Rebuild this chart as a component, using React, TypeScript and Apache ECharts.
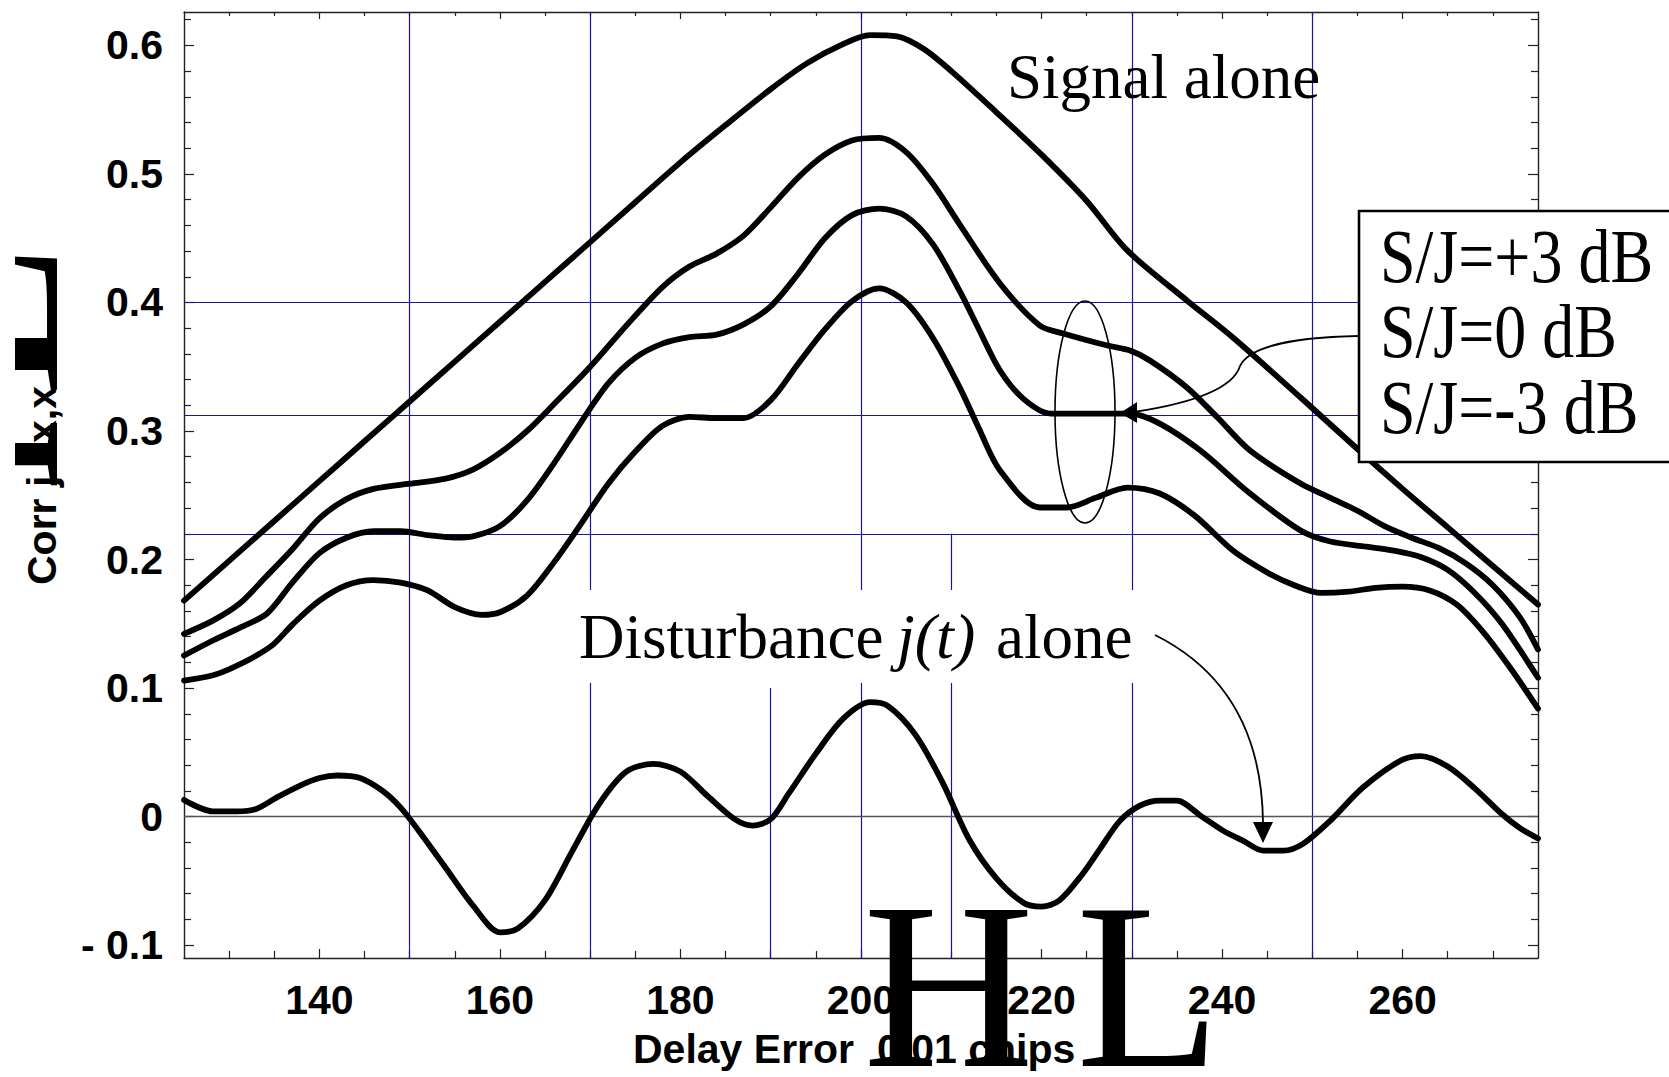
import React, { useEffect, useRef } from 'react';
import * as echarts from 'echarts';

// ---------- axes ----------
const X_MIN = 125;
const X_MAX = 275;
const Y_MIN = -0.11;
const Y_MAX = 0.626;
const X_MAJOR = [140, 160, 180, 200, 220, 240, 260];
const X_MINOR = [130, 135, 145, 150, 155, 165, 170, 175, 185, 190, 195, 205, 210, 215, 225, 230, 235, 245, 250, 255, 265, 270];
const Y_MAJOR = [-0.1, 0, 0.1, 0.2, 0.3, 0.4, 0.5, 0.6];
const Y_MINOR = [-0.08, -0.06, -0.04, -0.02, 0.02, 0.04, 0.06, 0.08, 0.12, 0.14, 0.16, 0.18, 0.22, 0.24, 0.26, 0.28,
  0.32, 0.34, 0.36, 0.38, 0.42, 0.44, 0.46, 0.48, 0.52, 0.54, 0.56, 0.58, 0.62];

// ---------- reference lines ----------
const V_LINES_FULL = [150, 170, 200, 230, 250];
const V_LINES_PART = [[190, 0.1], [210, 0.22]]; // x, top value (runs down to the bottom)
const H_LINES = [0.4, 0.312, 0.22];

// ---------- data ----------
const SIGNAL_X = [125, 130, 135, 140, 145, 150, 155, 160, 165, 170, 175, 180, 185, 190, 194, 198, 201, 204, 207, 210, 215, 220, 225, 229.5, 236.1, 241.2, 248.7, 255, 260, 265, 270, 275];
const SIGNAL_Y = [0.168, 0.199, 0.23, 0.261, 0.292, 0.323, 0.354, 0.385, 0.416, 0.447, 0.478, 0.509, 0.538, 0.566, 0.586, 0.601, 0.608, 0.607, 0.597, 0.58, 0.548, 0.515, 0.479, 0.4405, 0.4016, 0.3728, 0.3261, 0.286, 0.255, 0.225, 0.195, 0.165];

const SJ_P3_X = [125, 128.2, 131.2, 134, 137, 140, 143, 146, 150, 154, 157, 160, 163, 166, 170, 174, 178, 181, 184, 187, 190, 193, 196, 199, 202, 205, 208, 211, 215.4, 219.8, 222.4, 227.3, 229.8, 232, 236.1, 239.5, 243.1, 248.7, 252, 255, 258, 261, 264, 267, 270, 273, 275];
const SJ_P3_Y = [0.1422, 0.1525, 0.166, 0.186, 0.208, 0.232, 0.247, 0.255, 0.259, 0.263, 0.27, 0.283, 0.3, 0.321, 0.35, 0.382, 0.412, 0.428, 0.438, 0.452, 0.474, 0.497, 0.515, 0.526, 0.528, 0.517, 0.492, 0.46, 0.4148, 0.3821, 0.3759, 0.3665, 0.3626, 0.3549, 0.3339, 0.3105, 0.2848, 0.2591, 0.248, 0.238, 0.226, 0.217, 0.209, 0.197, 0.18, 0.155, 0.13];

const SJ_0_X = [125, 128.2, 131.2, 134.2, 137, 140, 143, 146, 149, 152, 155, 157, 160, 163, 166, 169, 172, 175, 178, 181, 184, 187, 190, 193, 196, 199, 202, 205, 208, 211, 213, 215.4, 218, 221, 224.6, 229.8, 233.1, 237.6, 243, 248.7, 252, 256, 259, 262, 265, 268, 271, 275];
const SJ_0_Y = [0.1253, 0.137, 0.147, 0.158, 0.182, 0.205, 0.217, 0.222, 0.222, 0.219, 0.217, 0.218, 0.226, 0.246, 0.275, 0.307, 0.337, 0.357, 0.368, 0.373, 0.375, 0.383, 0.397, 0.422, 0.45, 0.468, 0.473, 0.467, 0.445, 0.408, 0.38, 0.3471, 0.325, 0.3136, 0.3136, 0.3136, 0.3058, 0.2848, 0.252, 0.2226, 0.214, 0.21, 0.207, 0.202, 0.192, 0.174, 0.15, 0.108];

const SJ_M3_X = [125, 128.2, 130.1, 132.7, 134.9, 137.1, 140, 143, 146, 149, 152, 155, 158, 160, 163, 166, 169, 172, 175, 178, 181, 184, 187, 190, 193, 196, 199, 202, 205, 208, 211, 213, 215.4, 219.8, 222.8, 226, 229.5, 233.1, 237, 241.2, 245, 248, 251, 254, 257, 260, 263, 266, 269, 272, 275];
const SJ_M3_Y = [0.1058, 0.11, 0.115, 0.124, 0.134, 0.15, 0.168, 0.18, 0.184, 0.182, 0.176, 0.163, 0.157, 0.159, 0.172, 0.198, 0.228, 0.259, 0.284, 0.304, 0.311, 0.31, 0.31, 0.324, 0.352, 0.379, 0.401, 0.411, 0.4, 0.372, 0.333, 0.303, 0.2693, 0.2405, 0.2405, 0.248, 0.256, 0.2514, 0.234, 0.207, 0.19, 0.18, 0.174, 0.175, 0.178, 0.179, 0.176, 0.165, 0.143, 0.115, 0.084];

const DIST_X = [125, 128.2, 130.8, 133, 135.3, 137.8, 140, 142, 144.5, 147, 149, 151, 154, 157, 160, 162, 165, 168, 171, 174, 177, 180, 183, 186, 188, 190, 192, 195, 198, 201, 203, 206, 209, 212, 215, 218, 220, 222, 224.5, 226.5, 228.7, 230.9, 233.1, 235, 237.6, 240.1, 242.3, 244.6, 246.8, 249, 252, 255.6, 259.8, 262, 265, 268, 271, 273, 275];
const DIST_Y = [0.013, 0.0041, 0.0041, 0.006, 0.015, 0.024, 0.03, 0.032, 0.03, 0.02, 0.007, -0.011, -0.04, -0.069, -0.09, -0.087, -0.065, -0.027, 0.01, 0.035, 0.041, 0.035, 0.016, -0.002, -0.007, -0.002, 0.018, 0.049, 0.076, 0.089, 0.086, 0.064, 0.027, -0.018, -0.048, -0.067, -0.07, -0.065, -0.045, -0.0249, -0.0031, 0.0086, 0.0125, 0.0125, 0.0008, -0.0109, -0.0187, -0.0265, -0.0265, -0.021, -0.0031, 0.0226, 0.0436, 0.047, 0.039, 0.022, 0.002, -0.009, -0.017];

const LEGEND_LINES = ['S/J=+3 dB', 'S/J=0 dB', 'S/J=-3 dB'];

// ---------- styling helpers ----------
const SANS = '"Liberation Sans", Arial, Helvetica, sans-serif';
const SERIF = '"Liberation Serif", "Times New Roman", Times, serif';
const K_SANS = 0.3465;
const K_SERIF = 0.3375;
const AXIS_COLOR = '#222';
const GRID_BLUE = '#1414a0';

function pairs(xs: number[], ys: number[]) {
  return xs.map((x, i) => [x, ys[i]]);
}

type TOpts = { weight?: string; italic?: boolean; rotation?: number; scaleY?: number; z?: number };
function txt(str: string, x: number, baseline: number, size: number, family: string, o: TOpts = {}) {
  const k = family === SERIF ? K_SERIF : K_SANS;
  const el: any = {
    type: 'text',
    x,
    y: baseline,
    z: o.z ?? 50,
    silent: true,
    style: {
      text: str,
      x: 0,
      y: -k * size,
      fontSize: size,
      fontFamily: family,
      fontWeight: o.weight ?? 'normal',
      fontStyle: o.italic ? 'italic' : 'normal',
      fill: '#000',
      textAlign: 'left',
      verticalAlign: 'middle',
    },
  };
  if (o.rotation) el.rotation = o.rotation;
  if (o.scaleY) el.scaleY = o.scaleY;
  return el;
}

function makeAxis(dim: 'x' | 'y', position: string, ticks: number[], len: number, showLine: boolean, labels: boolean) {
  const isX = dim === 'x';
  const ax: any = {
    type: 'value',
    position,
    min: isX ? X_MIN : Y_MIN,
    max: isX ? X_MAX : Y_MAX,
    splitLine: { show: false },
    axisLine: { show: showLine, onZero: false, lineStyle: { color: AXIS_COLOR, width: 1.4 } },
    axisTick: { show: true, inside: true, length: len, customValues: ticks, lineStyle: { color: AXIS_COLOR, width: 1.2 } },
    axisLabel: { show: false },
  };
  if (labels) {
    ax.axisLabel = {
      show: true,
      customValues: ticks,
      fontSize: 41,
      fontWeight: 'bold',
      fontFamily: SANS,
      color: '#000',
      margin: isX ? 42 : 21,
      verticalAlign: 'middle',
      formatter: (v: number) => {
        if (isX) return String(Math.round(v));
        const r = Math.round(v * 10) / 10;
        if (r < 0) return '- ' + Math.abs(r).toFixed(1);
        if (r === 0) return '0';
        return r.toFixed(1);
      },
    };
  }
  return ax;
}

function buildOption() {
  const gridLines: any[] = [];
  V_LINES_FULL.forEach((x) => gridLines.push([{ coord: [x, Y_MIN] }, { coord: [x, Y_MAX] }]));
  V_LINES_PART.forEach(([x, top]) => gridLines.push([{ coord: [x, Y_MIN] }, { coord: [x, top] }]));
  H_LINES.forEach((y) => gridLines.push([{ coord: [X_MIN, y] }, { coord: [X_MAX, y] }]));
  const zeroLine = [[{ coord: [X_MIN, 0] }, { coord: [X_MAX, 0] }]];

  const curve = (name: string, xs: number[], ys: number[]) => ({
    name,
    type: 'line',
    data: pairs(xs, ys),
    showSymbol: false,
    symbol: 'none',
    smooth: 0.3,
    z: 5,
    silent: true,
    lineStyle: { color: '#000', width: 5.8, cap: 'round', join: 'round' },
  });

  const graphic: any[] = [
    // white box behind "Disturbance j(t) alone"
    { type: 'rect', z: 40, silent: true, shape: { x: 572, y: 590, width: 570, height: 93 }, style: { fill: '#fff' } },
    txt('Signal alone', 1007, 98, 63, SERIF),
    txt('Disturbance', 579, 658, 63, SERIF),
    txt('j(t)', 897, 658, 64, SERIF, { italic: true }),
    txt('alone', 996, 658, 63, SERIF),
    // legend box
    { type: 'rect', z: 45, silent: true, shape: { x: 1359, y: 211, width: 330, height: 251 }, style: { fill: '#fff', stroke: '#000', lineWidth: 2.6 } },
    ...LEGEND_LINES.map((s, i) => txt(s, 1380, [282, 357, 433][i], 64, SERIF, { scaleY: 1.18, z: 50 })),
    // ellipse around curves
    { type: 'ellipse', z: 50, silent: true, shape: { cx: 1085, cy: 412, rx: 30, ry: 111 }, style: { fill: 'none', stroke: '#000', lineWidth: 1.6 } },
    // arrow from legend to S/J=0 curve
    { type: 'bezierCurve', z: 50, silent: true, shape: { x1: 1359, y1: 336, cpx1: 1300, cpy1: 337, cpx2: 1250, cpy2: 345, x2: 1240, y2: 366 }, style: { fill: 'none', stroke: '#000', lineWidth: 1.8 } },
    { type: 'bezierCurve', z: 50, silent: true, shape: { x1: 1240, y1: 366, cpx1: 1232, cpy1: 392, cpx2: 1180, cpy2: 405, x2: 1134, y2: 412 }, style: { fill: 'none', stroke: '#000', lineWidth: 1.8 } },
    { type: 'polygon', z: 50, silent: true, shape: { points: [[1120, 413], [1137, 402], [1137, 423]] }, style: { fill: '#000' } },
    // arrow from disturbance label to curve
    { type: 'bezierCurve', z: 50, silent: true, shape: { x1: 1155, y1: 635, cpx1: 1215, cpy1: 665, cpx2: 1262, cpy2: 720, x2: 1263, y2: 823 }, style: { fill: 'none', stroke: '#000', lineWidth: 1.8 } },
    { type: 'polygon', z: 50, silent: true, shape: { points: [[1263, 843], [1253, 822], [1273, 822]] }, style: { fill: '#000' } },
    // x-axis title with oversized bracket glyphs
    txt('Delay Error', 633, 1063, 41, SANS, { weight: 'bold' }),
    txt('0.01 chips', 877, 1063, 41, SANS, { weight: 'bold' }),
    txt('H', 863, 1066, 237, SERIF, { z: 60 }),
    txt('L', 1076, 1066, 237, SERIF, { z: 60 }),
    // y-axis title (rotated)
    txt('Corr j', 56, 585, 41, SANS, { weight: 'bold', rotation: Math.PI / 2 }),
    txt('H', 57, 492, 237, SERIF, { rotation: Math.PI / 2, z: 60 }),
    txt('x,x', 56, 443, 41, SANS, { weight: 'bold', rotation: Math.PI / 2, z: 65 }),
    txt('L', 57, 387, 237, SERIF, { rotation: Math.PI / 2, z: 60 }),
    // clip strip at the left edge
    { type: 'rect', z: 70, silent: true, shape: { x: 0, y: 0, width: 15, height: 1077 }, style: { fill: '#fff' } },
  ];

  return {
    animation: false,
    backgroundColor: '#fff',
    grid: { left: 184, right: 131, top: 12, bottom: 119, containLabel: false, outerBoundsMode: 'none' },
    xAxis: [
      makeAxis('x', 'bottom', X_MAJOR, 9, true, true),
      makeAxis('x', 'bottom', X_MINOR, 7, false, false),
      makeAxis('x', 'top', X_MAJOR, 7, true, false),
      makeAxis('x', 'top', X_MINOR, 4, false, false),
    ],
    yAxis: [
      makeAxis('y', 'left', Y_MAJOR, 10, true, true),
      makeAxis('y', 'left', Y_MINOR, 7, false, false),
      makeAxis('y', 'right', Y_MAJOR, 10, true, false),
      makeAxis('y', 'right', Y_MINOR, 7, false, false),
    ],
    series: [
      {
        name: 'grid',
        type: 'line',
        data: [],
        z: 1,
        silent: true,
        markLine: {
          silent: true,
          symbol: ['none', 'none'],
          label: { show: false },
          lineStyle: { type: 'solid', color: GRID_BLUE, width: 1.2 },
          data: gridLines,
        },
      },
      {
        name: 'zero',
        type: 'line',
        data: [],
        z: 1,
        silent: true,
        markLine: {
          silent: true,
          symbol: ['none', 'none'],
          label: { show: false },
          lineStyle: { type: 'solid', color: '#555', width: 1.3 },
          data: zeroLine,
        },
      },
      curve('Signal alone', SIGNAL_X, SIGNAL_Y),
      curve('S/J=+3 dB', SJ_P3_X, SJ_P3_Y),
      curve('S/J=0 dB', SJ_0_X, SJ_0_Y),
      curve('S/J=-3 dB', SJ_M3_X, SJ_M3_Y),
      curve('Disturbance j(t) alone', DIST_X, DIST_Y),
    ],
    graphic,
  };
}

export default function App() {
  const ref = useRef<HTMLDivElement>(null);
  useEffect(() => {
    if (!ref.current) return;
    const chart = echarts.init(ref.current, undefined, { renderer: 'svg' });
    chart.setOption(buildOption() as any);
    return () => chart.dispose();
  }, []);
  return (
    <div
      ref={ref}
      style={{ position: 'absolute', left: 0, top: 0, width: 1669, height: 1077, background: '#fff' }}
    />
  );
}
